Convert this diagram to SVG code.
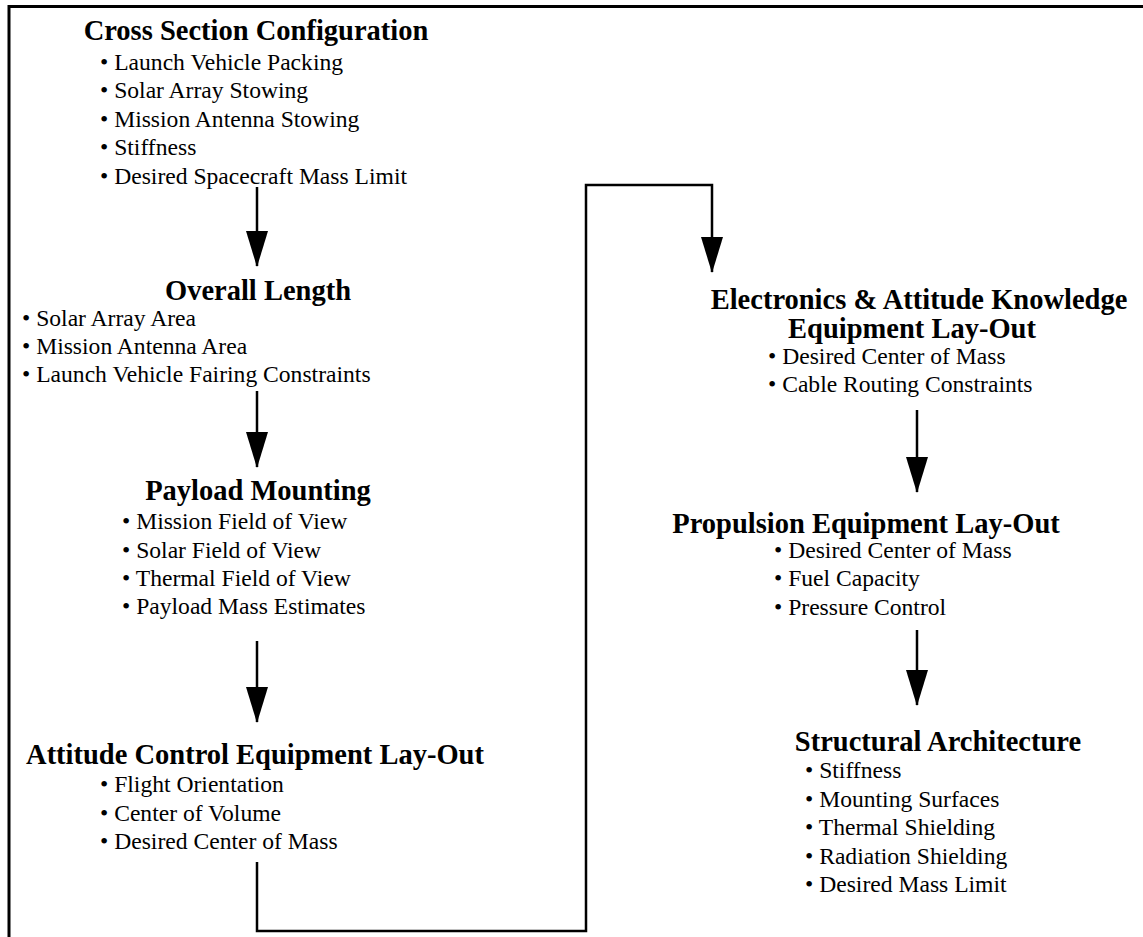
<svg xmlns="http://www.w3.org/2000/svg" width="1143" height="937" viewBox="0 0 1143 937">
  <style>
    .title { font-family: "Liberation Serif", "Times New Roman", serif; font-weight: bold; font-size: 28.5px; fill: #000; text-anchor: middle; }
    .item { font-family: "Liberation Serif", "Times New Roman", serif; font-size: 23.6px; fill: #000; }
    .frame { fill: none; stroke: #000; stroke-width: 3; }
    .link { fill: none; stroke: #000; stroke-width: 2.5; }
  </style>
  <defs>
    <marker id="head" viewBox="0 0 36 22" refX="35" refY="11" markerWidth="36" markerHeight="22" markerUnits="userSpaceOnUse" orient="auto">
      <path d="M0,0 L36,11 L0,22 Z" fill="#000"/>
    </marker>
  </defs>
  <rect width="1143" height="937" fill="#fff"/>
  <!-- frame: top and left edges -->
  <path class="frame" d="M9,937 V6.5 H1143"/>

  <g id="cross-section">
    <text class="title" x="256" y="40">Cross Section Configuration</text>
    <text class="item" x="100" y="70">• Launch Vehicle Packing</text>
    <text class="item" x="100" y="98">• Solar Array Stowing</text>
    <text class="item" x="100" y="127">• Mission Antenna Stowing</text>
    <text class="item" x="100" y="155">• Stiffness</text>
    <text class="item" x="100" y="184">• Desired Spacecraft Mass Limit</text>
  </g>

  <g id="overall-length">
    <text class="title" x="258" y="300">Overall Length</text>
    <text class="item" x="22" y="326">• Solar Array Area</text>
    <text class="item" x="22" y="354">• Mission Antenna Area</text>
    <text class="item" x="22" y="382">• Launch Vehicle Fairing Constraints</text>
  </g>

  <g id="payload-mounting">
    <text class="title" x="258" y="500">Payload Mounting</text>
    <text class="item" x="122" y="529">• Mission Field of View</text>
    <text class="item" x="122" y="558">• Solar Field of View</text>
    <text class="item" x="122" y="586">• Thermal Field of View</text>
    <text class="item" x="122" y="614">• Payload Mass Estimates</text>
  </g>

  <g id="attitude-control">
    <text class="title" x="255" y="764">Attitude Control Equipment Lay-Out</text>
    <text class="item" x="100" y="792">• Flight Orientation</text>
    <text class="item" x="100" y="821">• Center of Volume</text>
    <text class="item" x="100" y="849">• Desired Center of Mass</text>
  </g>

  <g id="electronics">
    <text class="title" x="919" y="309">Electronics &amp; Attitude Knowledge</text>
    <text class="title" x="912" y="338">Equipment Lay-Out</text>
    <text class="item" x="768" y="364">• Desired Center of Mass</text>
    <text class="item" x="768" y="392">• Cable Routing Constraints</text>
  </g>

  <g id="propulsion">
    <text class="title" x="866" y="533">Propulsion Equipment Lay-Out</text>
    <text class="item" x="774" y="558">• Desired Center of Mass</text>
    <text class="item" x="774" y="586">• Fuel Capacity</text>
    <text class="item" x="774" y="615">• Pressure Control</text>
  </g>

  <g id="structural">
    <text class="title" x="938" y="751">Structural Architecture</text>
    <text class="item" x="805" y="778">• Stiffness</text>
    <text class="item" x="805" y="807">• Mounting Surfaces</text>
    <text class="item" x="805" y="835">• Thermal Shielding</text>
    <text class="item" x="805" y="864">• Radiation Shielding</text>
    <text class="item" x="805" y="892">• Desired Mass Limit</text>
  </g>

  <g id="connectors">
    <path class="link" d="M257,187 V266" marker-end="url(#head)"/>
    <path class="link" d="M257,391 V467" marker-end="url(#head)"/>
    <path class="link" d="M257,641 V722" marker-end="url(#head)"/>
    <path class="link" d="M257,862 V931 H586 V185 H712 V272" marker-end="url(#head)"/>
    <path class="link" d="M917,410 V492" marker-end="url(#head)"/>
    <path class="link" d="M917,630 V705" marker-end="url(#head)"/>
  </g>
</svg>
